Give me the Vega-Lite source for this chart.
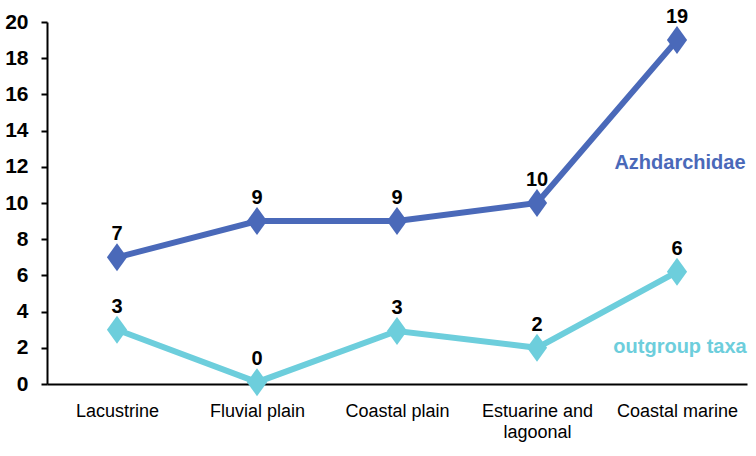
{
  "$schema": "https://vega.github.io/schema/vega-lite/v6.json",
  "width": 700,
  "height": 362,
  "autosize": {"type": "none"},
  "padding": {"left": 47, "top": 22, "right": 9, "bottom": 72},
  "background": "white",
  "config": {"view": {"stroke": null}, "font": "Liberation Sans"},
  "datasets": {
    "series": [
      {"env": "Lacustrine", "group": "Azhdarchidae", "count": 7},
      {"env": "Fluvial plain", "group": "Azhdarchidae", "count": 9},
      {"env": "Coastal plain", "group": "Azhdarchidae", "count": 9},
      {"env": "Estuarine and lagoonal", "group": "Azhdarchidae", "count": 10},
      {"env": "Coastal marine", "group": "Azhdarchidae", "count": 19},
      {"env": "Lacustrine", "group": "outgroup taxa", "count": 3},
      {"env": "Fluvial plain", "group": "outgroup taxa", "count": 0.1},
      {"env": "Coastal plain", "group": "outgroup taxa", "count": 2.93},
      {"env": "Estuarine and lagoonal", "group": "outgroup taxa", "count": 2},
      {"env": "Coastal marine", "group": "outgroup taxa", "count": 6.2}
    ],
    "names": [
      {"env": "Coastal marine", "group": "Azhdarchidae", "pos": 12.2},
      {"env": "Coastal marine", "group": "outgroup taxa", "pos": 2.05}
    ]
  },
  "layer": [
    {
      "data": {"name": "series"},
      "mark": {"type": "line", "strokeWidth": 6},
      "encoding": {
        "x": {"field": "env", "type": "nominal", "sort": null},
        "y": {"field": "count", "type": "quantitative"},
        "color": {"field": "group", "type": "nominal", "scale": {"domain": ["Azhdarchidae", "outgroup taxa"], "range": ["#4a69b9", "#6dcedc"]}, "legend": null},
        "detail": {"field": "group"}
      }
    },
    {
      "data": {"name": "series"},
      "mark": {"type": "point", "shape": "M-0.72,0L0,-1L0.72,0L0,1Z", "filled": true, "opacity": 1, "size": 784},
      "encoding": {
        "x": {"field": "env", "type": "nominal", "sort": null},
        "y": {"field": "count", "type": "quantitative"},
        "color": {"field": "group", "type": "nominal", "legend": null}
      }
    },
    {
      "data": {"name": "series"},
      "mark": {"type": "text", "fontWeight": "bold", "fontSize": 20, "color": "black", "baseline": "alphabetic", "dy": -17},
      "encoding": {
        "x": {"field": "env", "type": "nominal", "sort": null},
        "y": {"field": "count", "type": "quantitative"},
        "text": {"field": "count", "type": "quantitative", "format": ".0f"}
      }
    },
    {
      "data": {"name": "names"},
      "mark": {"type": "text", "fontWeight": "bold", "fontSize": 20, "baseline": "middle", "align": "center", "dx": 3},
      "encoding": {
        "x": {"field": "env", "type": "nominal", "sort": null},
        "y": {"field": "pos", "type": "quantitative"},
        "text": {"field": "group"},
        "color": {"field": "group", "type": "nominal", "legend": null}
      }
    }
  ],
  "encoding": {
    "x": {
      "field": "env",
      "type": "nominal",
      "sort": ["Lacustrine", "Fluvial plain", "Coastal plain", "Estuarine and lagoonal", "Coastal marine"],
      "title": null,
      "scale": {"domain": ["Lacustrine", "Fluvial plain", "Coastal plain", "Estuarine and lagoonal", "Coastal marine"], "paddingInner": 0, "paddingOuter": 0},
      "axis": {
        "labelAngle": 0,
        "ticks": false,
        "domainColor": "black",
        "domainWidth": 2,
        "labelFontSize": 18,
        "labelColor": "black",
        "labelPadding": 18,
        "labelBaseline": "top",
        "labelLineHeight": 21,
        "labelExpr": "datum.label == 'Estuarine and lagoonal' ? ['Estuarine and', 'lagoonal'] : datum.label"
      }
    },
    "y": {
      "type": "quantitative",
      "title": null,
      "scale": {"domain": [0, 20], "nice": false},
      "axis": {
        "values": [0, 2, 4, 6, 8, 10, 12, 14, 16, 18, 20],
        "grid": false,
        "domainColor": "black",
        "domainWidth": 2,
        "tickColor": "black",
        "tickWidth": 2,
        "tickSize": 6,
        "labelFontSize": 21,
        "labelFontWeight": "bold",
        "labelColor": "black",
        "labelPadding": 13
      }
    }
  }
}
